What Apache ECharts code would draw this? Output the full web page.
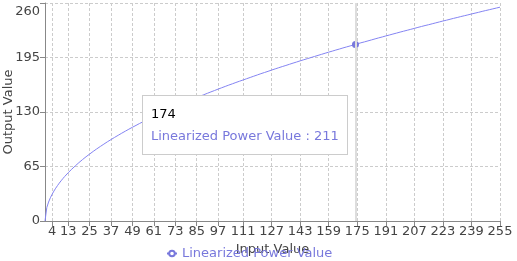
<!DOCTYPE html>
<html>
<head>
<meta charset="utf-8">
<script src="https://cdn.jsdelivr.net/npm/echarts@6/dist/echarts.min.js"></script>
<style>
html,body{margin:0;padding:0;background:#fff;}
#c{width:517px;height:261px;}
</style>
</head>
<body>
<div id="c"></div>
<script>
var seriesName = 'Linearized Power Value';
var categories = [0,1,2,3,4,5,6,7,8,9,10,11,12,13,14,15,16,17,18,19,20,21,22,23,24,25,26,27,28,29,30,31,32,33,34,35,36,37,38,39,40,41,42,43,44,45,46,47,48,49,50,51,52,53,54,55,56,57,58,59,60,61,62,63,64,65,66,67,68,69,70,71,72,73,74,75,76,77,78,79,80,81,82,83,84,85,86,87,88,89,90,91,92,93,94,95,96,97,98,99,100,101,102,103,104,105,106,107,108,109,110,111,112,113,114,115,116,117,118,119,120,121,122,123,124,125,126,127,128,129,130,131,132,133,134,135,136,137,138,139,140,141,142,143,144,145,146,147,148,149,150,151,152,153,154,155,156,157,158,159,160,161,162,163,164,165,166,167,168,169,170,171,172,173,174,175,176,177,178,179,180,181,182,183,184,185,186,187,188,189,190,191,192,193,194,195,196,197,198,199,200,201,202,203,204,205,206,207,208,209,210,211,212,213,214,215,216,217,218,219,220,221,222,223,224,225,226,227,228,229,230,231,232,233,234,235,236,237,238,239,240,241,242,243,244,245,246,247,248,249,250,251,252,253,254,255];
var values = [0,16.0,22.6,27.7,31.9,35.7,39.1,42.2,45.2,47.9,50.5,53.0,55.3,57.6,59.7,61.8,63.9,65.8,67.7,69.6,71.4,73.2,74.9,76.6,78.2,79.8,81.4,83.0,84.5,86.0,87.5,88.9,90.3,91.7,93.1,94.5,95.8,97.1,98.4,99.7,101.0,102.2,103.5,104.7,105.9,107.1,108.3,109.5,110.6,111.8,112.9,114.0,115.2,116.3,117.3,118.4,119.5,120.6,121.6,122.7,123.7,124.7,125.7,126.7,127.7,128.7,129.7,130.7,131.7,132.6,133.6,134.6,135.5,136.4,137.4,138.3,139.2,140.1,141.0,141.9,142.8,143.7,144.6,145.5,146.4,147.2,148.1,148.9,149.8,150.6,151.5,152.3,153.2,154.0,154.8,155.6,156.5,157.3,158.1,158.9,159.7,160.5,161.3,162.1,162.8,163.6,164.4,165.2,166.0,166.7,167.5,168.2,169.0,169.7,170.5,171.2,172.0,172.7,173.5,174.2,174.9,175.7,176.4,177.1,177.8,178.5,179.2,180.0,180.7,181.4,182.1,182.8,183.5,184.2,184.9,185.5,186.2,186.9,187.6,188.3,188.9,189.6,190.3,191.0,191.6,192.3,193.0,193.6,194.3,194.9,195.6,196.2,196.9,197.5,198.2,198.8,199.4,200.1,200.7,201.4,202.0,202.6,203.2,203.9,204.5,205.1,205.7,206.4,207.0,207.6,208.2,208.8,209.4,210.0,210.6,211.2,211.9,212.5,213.1,213.6,214.2,214.8,215.4,216.0,216.6,217.2,217.8,218.4,219.0,219.5,220.1,220.7,221.3,221.8,222.4,223.0,223.6,224.1,224.7,225.3,225.8,226.4,227.0,227.5,228.1,228.6,229.2,229.7,230.3,230.9,231.4,232.0,232.5,233.1,233.6,234.1,234.7,235.2,235.8,236.3,236.9,237.4,237.9,238.5,239.0,239.5,240.1,240.6,241.1,241.7,242.2,242.7,243.2,243.8,244.3,244.8,245.3,245.8,246.4,246.9,247.4,247.9,248.4,248.9,249.4,250.0,250.5,251.0,251.5,252.0,252.5,253.0,253.5,254.0,254.5,255.0];
var xTickLabels = [4,13,25,37,49,61,73,85,97,111,127,143,159,175,191,207,223,239,255];
var yTicks = [0,65,130,195,260];
var tipIndex = 174;

var color = '#7878dc';
var font = 'DejaVu Sans';
var chart = echarts.init(document.getElementById('c'), null, {renderer:'canvas'});
function showLabel(idx){ return xTickLabels.indexOf(categories[idx]) >= 0; }
var yMax = yTicks[yTicks.length-1];
chart.setOption({
  animation: false,
  textStyle: {fontFamily: font},
  grid: {left: 45, right: 17, top: 3, bottom: 40, containLabel: false, outerBoundsMode: 'none'},
  legend: {
    data: [seriesName], left: 161, top: 242, itemWidth: 10, itemHeight: 7, itemGap: 5,
    textStyle: {color: color, fontSize: 13, fontFamily: font}
  },
  tooltip: {
    trigger: 'axis',
    position: [142, 95],
    padding: [7, 8],
    backgroundColor: '#fff',
    borderColor: '#ccc',
    borderWidth: 1,
    borderRadius: 0,
    extraCssText: 'box-shadow:none;',
    textStyle: {fontFamily: font, fontSize: 13},
    axisPointer: {type: 'line', lineStyle: {color: '#ddd', width: 2, type: 'solid'}},
    formatter: function (ps) {
      var p = ps[0];
      return '<div style="color:#000;font-size:13px;line-height:22px;font-family:DejaVu Sans">' + p.name + '</div>' +
             '<div style="color:' + color + ';font-size:13px;line-height:22px;font-family:DejaVu Sans">' + p.seriesName + ' : ' + Math.round(p.value) + '</div>';
    }
  },
  xAxis: {
    type: 'category', data: categories, boundaryGap: false,
    name: 'Input Value', nameLocation: 'middle', nameGap: 21,
    nameTextStyle: {color: '#444', fontSize: 13, fontFamily: font},
    axisLine: {lineStyle: {color: '#888'}},
    axisTick: {interval: function(i){return showLabel(i);}, lineStyle: {color: '#888'}},
    axisLabel: {interval: function(i){return showLabel(i);}, color: '#444', fontSize: 13, margin: 4, fontFamily: font},
    splitLine: {show: true, interval: function(i){return showLabel(i);}, lineStyle: {color: '#ccc', type: [3, 2]}}
  },
  yAxis: {
    type: 'value', min: yTicks[0], max: yMax, interval: yTicks[1]-yTicks[0],
    name: 'Output Value', nameLocation: 'middle', nameGap: 30, nameMoveOverlap: false,
    nameTextStyle: {color: '#444', fontSize: 13, fontFamily: font},
    axisLine: {show: true, lineStyle: {color: '#888'}},
    axisTick: {show: true, lineStyle: {color: '#888'}},
    axisLabel: {
      color: '#444', fontSize: 13, margin: 5, fontFamily: font,
      formatter: function (v) { return v === yMax ? '{top|' + v + '}' : String(v); },
      rich: {top: {color: '#444', fontSize: 13, fontFamily: font, padding: [17, 0, 0, 0]}}
    },
    splitLine: {show: true, lineStyle: {color: '#ccc', type: [3, 2]}}
  },
  series: [{
    name: seriesName, type: 'line', data: values,
    showSymbol: false, symbol: 'emptyCircle', symbolSize: 4,
    emphasis: {scale: false, itemStyle: {borderWidth: 3}},
    itemStyle: {color: color},
    lineStyle: {color: color, width: 1}
  }]
});
chart.dispatchAction({type: 'showTip', seriesIndex: 0, dataIndex: tipIndex});
</script>
</body>
</html>
